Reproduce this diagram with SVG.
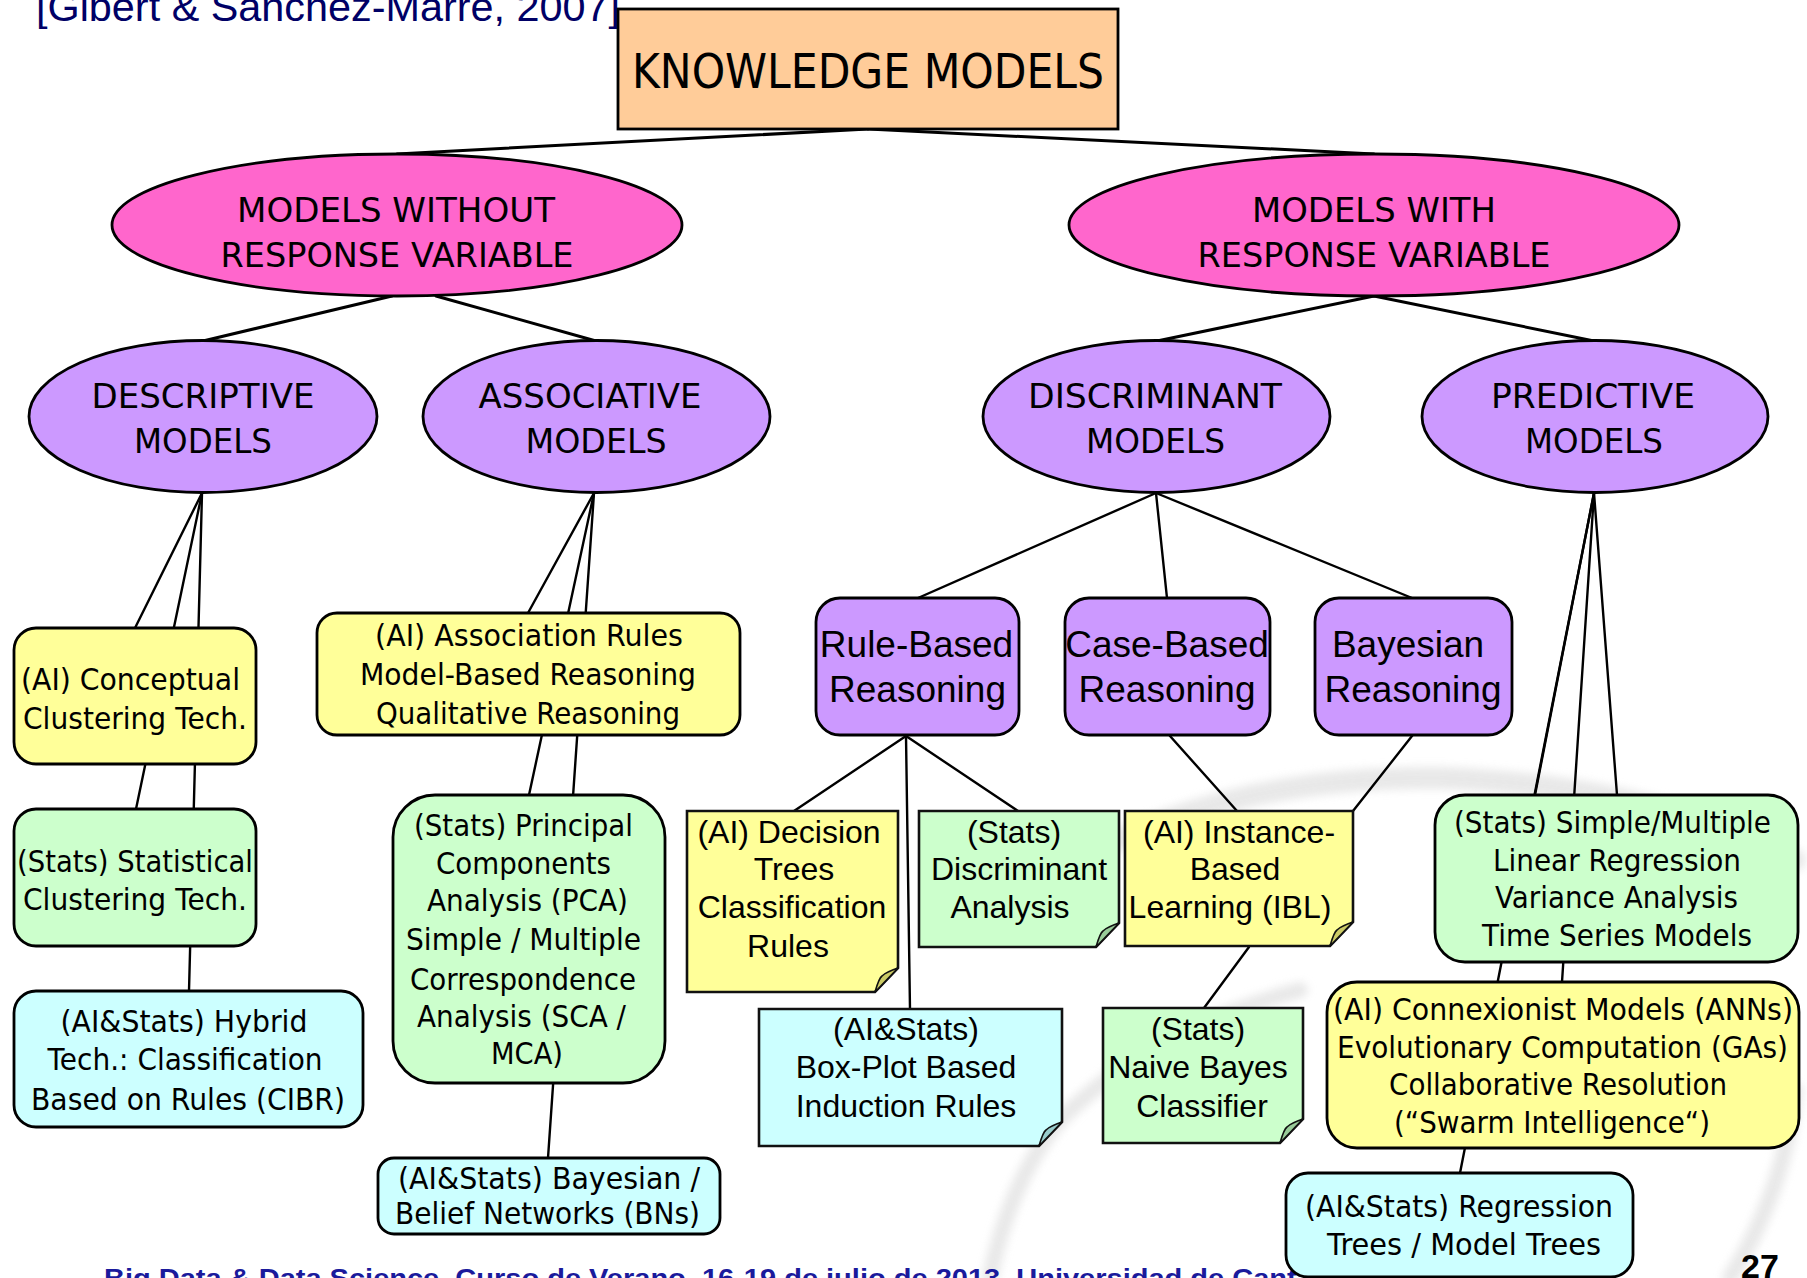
<svg xmlns="http://www.w3.org/2000/svg" width="1807" height="1278" viewBox="0 0 1807 1278">
  <style>
    .edge { stroke: #000; stroke-width: 2.4; fill: none; stroke-linecap: round; }
    .edge-top { stroke-width: 3; }
    .box { stroke: #000; stroke-width: 2.8; }
    .note { stroke: #111; stroke-width: 2.6; }
    .fold { stroke: #111; stroke-width: 1.6; }
    .peach { fill: #FFCC99; }
    .pink { fill: #FF66CC; }
    .violet { fill: #CC99FF; }
    .yellow { fill: #FFFF99; }
    .green { fill: #CCFFCC; }
    .cyan { fill: #CCFFFF; }
    .t { font-family: "DejaVu Sans", Verdana, sans-serif; text-anchor: middle; fill: #000; }
    .head { font-size: 34px; }
    .body { font-size: 31px; }
    .a { font-family: "Liberation Sans", Arial, sans-serif; text-anchor: middle; fill: #000; font-size: 32px; }
    .a37 { font-size: 37px; }
  </style>

  <defs>
    <filter id="soft" x="-10%" y="-10%" width="120%" height="120%">
      <feGaussianBlur stdDeviation="4"/>
    </filter>
  </defs>

  <!-- faint logo swoosh in the background -->
  <g id="watermark" fill="none" stroke="#e3e3e3" stroke-linecap="round" filter="url(#soft)" opacity="0.8">
    <path d="M1060 870 Q1220 775 1440 778 Q1650 785 1795 860" stroke-width="22"/>
    <path d="M1300 990 Q1150 1030 1060 1120 Q1010 1180 990 1278" stroke-width="16"/>
    <path d="M1795 1090 Q1785 1190 1730 1278" stroke-width="16"/>
  </g>

  <!-- header and footer -->
  <text x="36" y="21" font-family="'Liberation Sans', Arial, sans-serif" font-size="40" fill="#000066" textLength="584" lengthAdjust="spacingAndGlyphs">[Gibert &amp; Sanchez-Marre, 2007]</text>
  <text x="104" y="1287" font-family="'Liberation Sans', Arial, sans-serif" font-size="25" font-weight="bold" fill="#1a1a9c" textLength="1262" lengthAdjust="spacingAndGlyphs">Big Data &amp; Data Science. Curso de Verano, 16-19 de julio de 2013. Universidad de Cantabria</text>

  <!-- connectors -->
  <g id="connectors">
    <line class="edge edge-top" x1="868" y1="129" x2="397" y2="154"/>
    <line class="edge edge-top" x1="868" y1="129" x2="1374" y2="154"/>
    <line class="edge edge-top" x1="392" y1="296" x2="203" y2="341"/>
    <line class="edge edge-top" x1="436" y1="296" x2="596" y2="341"/>
    <line class="edge edge-top" x1="1374" y1="296" x2="1157" y2="341"/>
    <line class="edge edge-top" x1="1374" y1="296" x2="1594" y2="341"/>

    <line class="edge" x1="202" y1="493" x2="135" y2="628"/>
    <line class="edge" x1="202" y1="493" x2="136" y2="809"/>
    <line class="edge" x1="202" y1="493" x2="189" y2="991"/>

    <line class="edge" x1="594" y1="493" x2="528" y2="613"/>
    <line class="edge" x1="594" y1="493" x2="529" y2="795"/>
    <line class="edge" x1="594" y1="493" x2="548" y2="1158"/>

    <line class="edge" x1="1156" y1="493" x2="918" y2="598"/>
    <line class="edge" x1="1156" y1="493" x2="1167" y2="598"/>
    <line class="edge" x1="1156" y1="493" x2="1412" y2="598"/>

    <line class="edge" x1="1594" y1="493" x2="1535" y2="795"/>
    <line class="edge" x1="1594" y1="493" x2="1562" y2="982"/>
    <line class="edge" x1="1594" y1="493" x2="1460" y2="1173"/>
    <line class="edge" x1="1594" y1="493" x2="1617" y2="795"/>

    <line class="edge" x1="906" y1="736" x2="794" y2="811"/>
    <line class="edge" x1="906" y1="736" x2="910" y2="1009"/>
    <line class="edge" x1="906" y1="736" x2="1018" y2="811"/>
    <line class="edge" x1="1170" y1="736" x2="1237" y2="811"/>
    <line class="edge" x1="1412" y1="736" x2="1353" y2="811"/>
    <line class="edge" x1="1249" y1="947" x2="1204" y2="1008"/>
  </g>

  <!-- root -->
  <g id="knowledge-models">
    <rect class="box peach" x="618" y="9" width="500" height="120"/>
    <text class="t" x="868" y="88" font-size="48" textLength="472" lengthAdjust="spacingAndGlyphs">KNOWLEDGE MODELS</text>
  </g>

  <!-- second level -->
  <g id="models-without-response">
    <ellipse class="box pink" cx="397" cy="225" rx="285" ry="71"/>
    <text class="t head" x="396" y="222" textLength="318" lengthAdjust="spacingAndGlyphs">MODELS WITHOUT</text>
    <text class="t head" x="397" y="267" textLength="353" lengthAdjust="spacingAndGlyphs">RESPONSE VARIABLE</text>
  </g>
  <g id="models-with-response">
    <ellipse class="box pink" cx="1374" cy="225" rx="305" ry="71"/>
    <text class="t head" x="1374" y="222" textLength="244" lengthAdjust="spacingAndGlyphs">MODELS WITH</text>
    <text class="t head" x="1374" y="267" textLength="353" lengthAdjust="spacingAndGlyphs">RESPONSE VARIABLE</text>
  </g>

  <!-- third level -->
  <g id="descriptive-models">
    <ellipse class="box violet" cx="203" cy="416.5" rx="174" ry="76"/>
    <text class="t head" x="203" y="408" textLength="223" lengthAdjust="spacingAndGlyphs">DESCRIPTIVE</text>
    <text class="t head" x="203" y="453" textLength="138" lengthAdjust="spacingAndGlyphs">MODELS</text>
  </g>
  <g id="associative-models">
    <ellipse class="box violet" cx="596.5" cy="416.5" rx="173.5" ry="76"/>
    <text class="t head" x="590" y="408" textLength="223" lengthAdjust="spacingAndGlyphs">ASSOCIATIVE</text>
    <text class="t head" x="596" y="453" textLength="141" lengthAdjust="spacingAndGlyphs">MODELS</text>
  </g>
  <g id="discriminant-models">
    <ellipse class="box violet" cx="1156.5" cy="416.5" rx="173.5" ry="76"/>
    <text class="t head" x="1155" y="408" textLength="254" lengthAdjust="spacingAndGlyphs">DISCRIMINANT</text>
    <text class="t head" x="1155.5" y="453" textLength="139" lengthAdjust="spacingAndGlyphs">MODELS</text>
  </g>
  <g id="predictive-models">
    <ellipse class="box violet" cx="1595" cy="416.5" rx="173" ry="76"/>
    <text class="t head" x="1593" y="408" textLength="204" lengthAdjust="spacingAndGlyphs">PREDICTIVE</text>
    <text class="t head" x="1594" y="453" textLength="138" lengthAdjust="spacingAndGlyphs">MODELS</text>
  </g>

  <!-- descriptive branch -->
  <g id="conceptual-clustering">
    <rect class="box yellow" x="14" y="628" width="242" height="136" rx="22"/>
    <text class="t body" x="130.5" y="690" textLength="219" lengthAdjust="spacingAndGlyphs">(AI) Conceptual</text>
    <text class="t body" x="135" y="729" textLength="224" lengthAdjust="spacingAndGlyphs">Clustering Tech.</text>
  </g>
  <g id="statistical-clustering">
    <rect class="box green" x="14" y="809" width="242" height="137" rx="22"/>
    <text class="t body" x="135" y="872" textLength="236" lengthAdjust="spacingAndGlyphs">(Stats) Statistical</text>
    <text class="t body" x="135" y="910" textLength="224" lengthAdjust="spacingAndGlyphs">Clustering Tech.</text>
  </g>
  <g id="hybrid-cibr">
    <rect class="box cyan" x="14" y="991" width="349" height="136" rx="22"/>
    <text class="t body" x="184" y="1032" textLength="247" lengthAdjust="spacingAndGlyphs">(AI&amp;Stats) Hybrid</text>
    <text class="t body" x="185" y="1070" textLength="275" lengthAdjust="spacingAndGlyphs">Tech.: Classification</text>
    <text class="t body" x="188" y="1110" textLength="314" lengthAdjust="spacingAndGlyphs">Based on Rules (CIBR)</text>
  </g>

  <!-- associative branch -->
  <g id="association-rules">
    <rect class="box yellow" x="317" y="613" width="423" height="122" rx="20"/>
    <text class="t body" x="529" y="646" textLength="308" lengthAdjust="spacingAndGlyphs">(AI) Association Rules</text>
    <text class="t body" x="528" y="685" textLength="336" lengthAdjust="spacingAndGlyphs">Model-Based Reasoning</text>
    <text class="t body" x="528" y="724" textLength="304" lengthAdjust="spacingAndGlyphs">Qualitative Reasoning</text>
  </g>
  <g id="pca-correspondence">
    <rect class="box green" x="393" y="795" width="272" height="288" rx="42"/>
    <text class="t body" x="523.5" y="836" textLength="219" lengthAdjust="spacingAndGlyphs">(Stats) Principal</text>
    <text class="t body" x="523.5" y="874" textLength="175" lengthAdjust="spacingAndGlyphs">Components</text>
    <text class="t body" x="527.5" y="911" textLength="201" lengthAdjust="spacingAndGlyphs">Analysis (PCA)</text>
    <text class="t body" x="523.5" y="950" textLength="235" lengthAdjust="spacingAndGlyphs">Simple / Multiple</text>
    <text class="t body" x="523" y="990" textLength="226" lengthAdjust="spacingAndGlyphs">Correspondence</text>
    <text class="t body" x="521.5" y="1027" textLength="209" lengthAdjust="spacingAndGlyphs">Analysis (SCA /</text>
    <text class="t body" x="527" y="1064" textLength="72" lengthAdjust="spacingAndGlyphs">MCA)</text>
  </g>
  <g id="bayesian-networks">
    <rect class="box cyan" x="378" y="1158" width="342" height="76" rx="16"/>
    <text class="t body" x="549" y="1189" textLength="302" lengthAdjust="spacingAndGlyphs">(AI&amp;Stats) Bayesian /</text>
    <text class="t body" x="547.5" y="1224" textLength="305" lengthAdjust="spacingAndGlyphs">Belief Networks (BNs)</text>
  </g>

  <!-- discriminant branch -->
  <g id="rule-based-reasoning">
    <rect class="box violet" x="816" y="598" width="203" height="137" rx="24"/>
    <text class="a a37" x="916.5" y="657">Rule-Based</text>
    <text class="a a37" x="917.5" y="702">Reasoning</text>
  </g>
  <g id="case-based-reasoning">
    <rect class="box violet" x="1065" y="598" width="205" height="137" rx="24"/>
    <text class="a a37" x="1167" y="657">Case-Based</text>
    <text class="a a37" x="1167" y="702">Reasoning</text>
  </g>
  <g id="bayesian-reasoning">
    <rect class="box violet" x="1315" y="598" width="197" height="137" rx="24"/>
    <text class="a a37" x="1408" y="657">Bayesian</text>
    <text class="a a37" x="1413" y="702">Reasoning</text>
  </g>

  <g id="decision-trees">
    <path class="note yellow" d="M687 811 H898 V968 L875 992 H687 Z"/>
    <path class="fold" fill="#CCCC66" d="M898 968 L875 992 Q879 978 882 976 Q886 972 898 968 Z"/>
    <text class="a" x="789" y="843">(AI) Decision</text>
    <text class="a" x="794" y="880">Trees</text>
    <text class="a" x="792" y="918">Classification</text>
    <text class="a" x="788" y="957">Rules</text>
  </g>
  <g id="discriminant-analysis">
    <path class="note green" d="M919 811 H1119 V923 L1096 947 H919 Z"/>
    <path class="fold" fill="#99CC99" d="M1119 923 L1096 947 Q1100 933 1103 931 Q1107 927 1119 923 Z"/>
    <text class="a" x="1014" y="843">(Stats)</text>
    <text class="a" x="1019" y="880">Discriminant</text>
    <text class="a" x="1010" y="918">Analysis</text>
  </g>
  <g id="instance-based-learning">
    <path class="note yellow" d="M1125 811 H1353 V922 L1330 946 H1125 Z"/>
    <path class="fold" fill="#CCCC66" d="M1353 922 L1330 946 Q1334 932 1337 930 Q1341 926 1353 922 Z"/>
    <text class="a" x="1239" y="843">(AI) Instance-</text>
    <text class="a" x="1235" y="880">Based</text>
    <text class="a" x="1230" y="918">Learning (IBL)</text>
  </g>
  <g id="box-plot-rules">
    <path class="note cyan" d="M759 1009 H1062 V1122 L1039 1146 H759 Z"/>
    <path class="fold" fill="#99CCCC" d="M1062 1122 L1039 1146 Q1043 1132 1046 1130 Q1050 1126 1062 1122 Z"/>
    <text class="a" x="906" y="1040">(AI&amp;Stats)</text>
    <text class="a" x="906" y="1078">Box-Plot Based</text>
    <text class="a" x="906" y="1117">Induction Rules</text>
  </g>
  <g id="naive-bayes">
    <path class="note green" d="M1103 1008 H1303 V1119 L1280 1143 H1103 Z"/>
    <path class="fold" fill="#99CC99" d="M1303 1119 L1280 1143 Q1284 1129 1287 1127 Q1291 1123 1303 1119 Z"/>
    <text class="a" x="1198" y="1040">(Stats)</text>
    <text class="a" x="1198" y="1078">Naive Bayes</text>
    <text class="a" x="1202" y="1117">Classifier</text>
  </g>

  <!-- predictive branch -->
  <g id="linear-regression">
    <rect class="box green" x="1435" y="795" width="363" height="167" rx="30"/>
    <text class="t body" x="1612.5" y="833" textLength="317" lengthAdjust="spacingAndGlyphs">(Stats) Simple/Multiple</text>
    <text class="t body" x="1617" y="871" textLength="248" lengthAdjust="spacingAndGlyphs">Linear Regression</text>
    <text class="t body" x="1616.5" y="908" textLength="243" lengthAdjust="spacingAndGlyphs">Variance Analysis</text>
    <text class="t body" x="1617" y="946" textLength="270" lengthAdjust="spacingAndGlyphs">Time Series Models</text>
  </g>
  <g id="connexionist-models">
    <rect class="box yellow" x="1327" y="982" width="472" height="166" rx="30"/>
    <text class="t body" x="1563" y="1020" textLength="460" lengthAdjust="spacingAndGlyphs">(AI) Connexionist Models (ANNs)</text>
    <text class="t body" x="1562.5" y="1058" textLength="451" lengthAdjust="spacingAndGlyphs">Evolutionary Computation (GAs)</text>
    <text class="t body" x="1558" y="1095" textLength="338" lengthAdjust="spacingAndGlyphs">Collaborative Resolution</text>
    <text class="t body" x="1552" y="1133" textLength="316" lengthAdjust="spacingAndGlyphs">(“Swarm Intelligence“)</text>
  </g>
  <g id="regression-trees">
    <rect class="box cyan" x="1286" y="1173" width="347" height="104" rx="22"/>
    <text class="t body" x="1459" y="1217" textLength="308" lengthAdjust="spacingAndGlyphs">(AI&amp;Stats) Regression</text>
    <text class="t body" x="1464" y="1255" textLength="274" lengthAdjust="spacingAndGlyphs">Trees / Model Trees</text>
  </g>

  <!-- slide number -->
  <text x="1760" y="1278" font-family="'Liberation Sans', Arial, sans-serif" font-size="34" font-weight="bold" text-anchor="middle" fill="#000">27</text>
</svg>
